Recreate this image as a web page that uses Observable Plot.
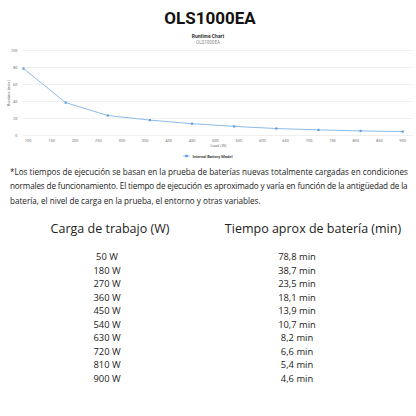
<!DOCTYPE html>
<html>
<head>
<meta charset="utf-8">
<script src="https://cdn.jsdelivr.net/npm/d3@7"></script>
<script src="https://cdn.jsdelivr.net/npm/@observablehq/plot@0.6"></script>
<style>
  html, body { margin: 0; padding: 0; background: #fff; }
  body { width: 416px; height: 416px; position: relative; overflow: hidden; font-family: "Open Sans", sans-serif; color: #222; }
  .abs { position: absolute; }
  #title { top: 5px; left: 2px; width: 416px; text-align: center; font-family: Roboto, sans-serif; font-weight: 700; font-size: 17px; line-height: 26px; color: #111; }
  #ctitle { top: 33px; left: 0; width: 416px; text-align: center; font-family: Roboto, sans-serif; font-weight: 700; font-size: 5px; line-height: 6px; color: #333; }
  #csub { top: 39.5px; left: 0; width: 416px; text-align: center; font-family: Roboto, sans-serif; font-size: 4.5px; line-height: 5px; color: #888; }
  #chart { top: 46px; left: 0; }
  #legend { top: 153.5px; left: 0; width: 416px; text-align: center; font-family: Roboto, sans-serif; font-weight: 700; font-size: 4px; line-height: 5px; color: #444; }
  #note { top: 165px; left: 10px; font-size: 8.12px; line-height: 14.4px; color: #1a1a1a; white-space: nowrap; }
  #note .l1 { letter-spacing: 0.01px; }
  #note .l2 { letter-spacing: -0.13px; }
  #table { top: 218px; left: 0; width: 416px; }
  .hdr { position: absolute; font-size: 12.5px; line-height: 18px; text-align: center; color: #222; }
  .cell { position: absolute; font-size: 9.4px; line-height: 13.5px; text-align: center; color: #222; }
</style>
</head>
<body>
<div id="title" class="abs">OLS1000EA</div>
<div id="ctitle" class="abs">Runtime Chart</div>
<div id="csub" class="abs">OLS1000EA</div>
<div id="chart" class="abs"></div>
<div id="legend" class="abs"></div>
<div id="note" class="abs"><span class="l1">*Los tiempos de ejecución se basan en la prueba de baterías nuevas totalmente cargadas en condiciones</span><br><span class="l2">normales de funcionamiento. El tiempo de ejecución es aproximado y varía en función de la antigüedad de la</span><br>batería, el nivel de carga en la prueba, el entorno y otras variables.</div>
<div id="table" class="abs"></div>
<script>
// Data
const loads = [50, 180, 270, 360, 450, 540, 630, 720, 810, 900];          // W
const runtimes = [78.8, 38.7, 23.5, 18.1, 13.9, 10.7, 8.2, 6.6, 5.4, 4.6]; // min
const xTicks = [100, 150, 200, 250, 300, 350, 400, 450, 500, 550, 600, 650, 700, 750, 800, 850, 900];
const yTicks = [0, 20, 40, 60, 80, 100];
const seriesName = "Internal Battery Model";
const headers = ["Carga de trabajo (W)", "Tiempo aprox de batería (min)"];

const data = loads.map((load, i) => ({load, runtime: runtimes[i], slot: i}));
// the source chart places the load categories evenly, one slot per 90 W step
const slotX = d => (d.slot + 1) * 90;

const lineColor = "#7fb3e6";
const dotColor = "#5b9ad8";

const chart = Plot.plot({
  width: 416,
  height: 106,
  marginTop: 4,
  marginBottom: 17,
  marginLeft: 23,
  marginRight: 3,
  style: {fontFamily: "Roboto, sans-serif", fontSize: "4px", color: "#777", background: "transparent"},
  x: {type: "linear", domain: [90, 923], ticks: xTicks, tickSize: 0, tickPadding: 4, label: "Load (W)", labelAnchor: "center", labelOffset: 11, labelArrow: "none"},
  y: {domain: [0, 100], ticks: yTicks, tickSize: 0, tickPadding: 6, label: "Runtime (min.)", labelAnchor: "center", labelOffset: 16, labelArrow: "none"},
  marks: [
    Plot.gridY(yTicks, {stroke: "#e6e6e6", strokeOpacity: 1, strokeWidth: 0.6}),
    Plot.line(data, {x: slotX, y: "runtime", stroke: lineColor, strokeWidth: 0.9}),
    Plot.dot(data, {x: slotX, y: "runtime", r: 1.2, fill: dotColor, symbol: "square"})
  ]
});
document.getElementById("chart").appendChild(chart);

// legend
const lg = document.getElementById("legend");
lg.innerHTML = `<svg width="7" height="4" style="vertical-align:middle;margin-right:2px"><line x1="0" y1="2" x2="7" y2="2" stroke="${lineColor}" stroke-width="0.8"/><rect x="2.3" y="0.8" width="2.4" height="2.4" fill="${dotColor}"/></svg>${seriesName}`;

// table
const tbl = document.getElementById("table");
const fmt = v => String(v).replace(".", ",");
const colCenters = [110, 313];
const valCenters = [107, 297];
headers.forEach((h, j) => {
  const el = document.createElement("div");
  el.className = "hdr";
  el.style.left = (colCenters[j] - 120) + "px";
  el.style.width = "240px";
  el.style.top = "2px";
  el.textContent = h;
  tbl.appendChild(el);
});
data.forEach((d, i) => {
  [`${d.load} W`, `${fmt(d.runtime)} min`].forEach((t, j) => {
    const el = document.createElement("div");
    el.className = "cell";
    el.style.left = (valCenters[j] - 60) + "px";
    el.style.width = "120px";
    el.style.top = (32 + i * 13.5) + "px";
    el.textContent = t;
    tbl.appendChild(el);
  });
});
</script>
</body>
</html>
